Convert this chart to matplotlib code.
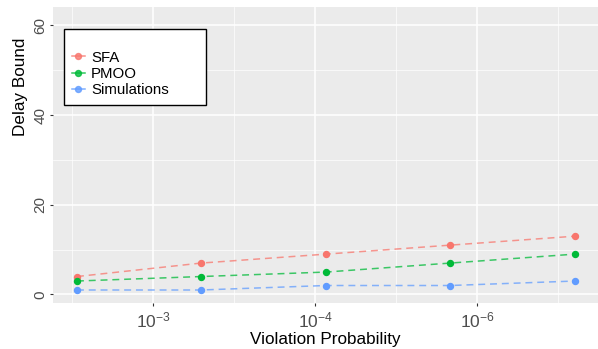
import matplotlib
matplotlib.use("Agg")
import matplotlib.pyplot as plt
from matplotlib.ticker import FixedLocator, FixedFormatter

# values
probs = [5.06e-3, 3.6e-4, 2.5e-5, 1.78e-6, 1.24e-7]
sfa = [4, 7, 9, 11, 13]
pmoo = [3, 4, 5, 7, 9]
sims = [1, 1, 2, 2, 3]

series_names = ["SFA", "PMOO", "Simulations"]
series_colors = ["#F8766D", "#00BA38", "#619CFF"]

major_ticks = [1e-3, 10 ** -4.5, 1e-6]
major_labels = ["$10^{-3}$", "$10^{-4}$", "$10^{-6}$"]
minor_ticks = [10 ** -2.25, 10 ** -3.75, 10 ** -5.25, 10 ** -6.75]
y_ticks = [0, 20, 40, 60]

plt.rcParams["font.family"] = ["Liberation Sans", "DejaVu Sans"]
plt.rcParams["mathtext.fontset"] = "custom"
plt.rcParams["mathtext.rm"] = "Liberation Sans"
plt.rcParams["mathtext.it"] = "Liberation Sans:italic"
plt.rcParams["lines.scale_dashes"] = False

fig = plt.figure(figsize=(5.98, 3.49), dpi=100)
ax = fig.add_axes([53 / 598, 46 / 349, 545 / 598, 296 / 349])
ax.set_facecolor("#EBEBEB")
for s in ax.spines.values():
    s.set_visible(False)

for name, vals, col in zip(series_names, [sfa, pmoo, sims], series_colors):
    ax.plot(probs, vals, color=col, lw=1.1, dashes=(5, 3.5), alpha=0.75, zorder=3)
    ax.plot(probs, vals, "o", color=col, ms=4.3, zorder=4)
    ax.plot([], [], "-o", color=col, lw=1.1, ms=4.3, alpha=0.8, label=name)

ax.set_xscale("log")
ax.set_xlim(8.43e-3, 7.6e-8)
ax.set_ylim(-1.9, 64.1)

ax.xaxis.set_major_locator(FixedLocator(major_ticks))
ax.xaxis.set_major_formatter(FixedFormatter(major_labels))
ax.xaxis.set_minor_locator(FixedLocator(minor_ticks))
ax.xaxis.set_minor_formatter(FixedFormatter([""] * len(minor_ticks)))
ax.set_yticks(y_ticks)
ax.set_yticks([10, 30, 50], minor=True)

ax.grid(True, which="major", color="white", lw=1.1)
ax.grid(True, which="minor", color="white", lw=0.5)
ax.set_axisbelow(True)

ax.tick_params(which="major", length=2.5, color="#333333", labelcolor="#4D4D4D")
ax.tick_params(axis="x", which="major", labelsize=12.5, pad=3)
ax.tick_params(axis="y", which="major", labelsize=11, pad=1.5)
ax.tick_params(which="minor", length=0)
for lab in ax.get_yticklabels():
    lab.set_rotation(90)
    lab.set_va("center")

ax.set_xlabel("Violation Probability", fontsize=12.3, labelpad=1)
ax.set_ylabel("Delay Bound", fontsize=12.3)
ax.yaxis.set_label_coords(-0.046, 0.73)

leg = ax.legend(loc="upper left", bbox_to_anchor=(0.0202, 0.676, 0.261, 0.25),
                mode="expand", fancybox=False, framealpha=1, edgecolor="black",
                fontsize=10.8, title=" ", title_fontsize=8.5, handlelength=0.9,
                handletextpad=0.4, labelspacing=0.15, borderaxespad=0, borderpad=0.5)
leg.get_frame().set_linewidth(1.0)

fig.savefig("out.png", dpi=100)
